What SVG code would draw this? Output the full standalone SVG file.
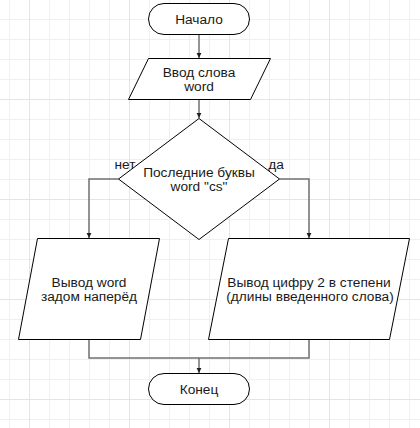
<svg xmlns="http://www.w3.org/2000/svg" width="420" height="428" viewBox="0 0 420 428">
<style>
.grid{stroke:#f0f0f0;stroke-width:1;fill:none}
.gridM{stroke:#e4e4e4;stroke-width:1;fill:none}
.shape{fill:#ffffff;stroke:#000000;stroke-width:1}
.edge{fill:none;stroke:#707070;stroke-width:1.5}
text{font-family:"Liberation Sans",Arial,sans-serif;font-size:13.7px;fill:#1a1a1a;text-anchor:middle}
</style>
<defs>
<marker id="arrow" markerUnits="userSpaceOnUse" markerWidth="8" markerHeight="8" viewBox="0 0 8 8" refX="6" refY="4" orient="auto">
<path d="M1,1.6 L6,4 L1,6.4 Z" fill="#222222"/>
</marker>
</defs>
<rect x="0" y="0" width="420" height="428" fill="#ffffff"/>
<g id="grid">
<path class="grid" d="M9.5,0V428M49.5,0V428M69.5,0V428M89.5,0V428M109.5,0V428M149.5,0V428M169.5,0V428M189.5,0V428M209.5,0V428M249.5,0V428M269.5,0V428M289.5,0V428M309.5,0V428M349.5,0V428M369.5,0V428M389.5,0V428M409.5,0V428M0,19.5H420M0,39.5H420M0,59.5H420M0,79.5H420M0,119.5H420M0,139.5H420M0,159.5H420M0,179.5H420M0,219.5H420M0,239.5H420M0,259.5H420M0,279.5H420M0,319.5H420M0,339.5H420M0,359.5H420M0,379.5H420M0,419.5H420"/>
<path class="gridM" d="M29.5,0V428M129.5,0V428M229.5,0V428M329.5,0V428M0,99.5H420M0,199.5H420M0,299.5H420M0,399.5H420"/>
</g>
<g id="connectors">
<path class="edge" d="M199,34.5V58" marker-end="url(#arrow)"/>
<path class="edge" d="M199,99.5V118" marker-end="url(#arrow)"/>
<path class="edge" d="M118.5,179H89V238" marker-end="url(#arrow)"/>
<path class="edge" d="M279.5,179H309V238" marker-end="url(#arrow)"/>
<path class="edge" d="M89,339.5V358H309V339.5"/>
<path class="edge" d="M199,358V373" marker-end="url(#arrow)"/>
<text x="125" y="168.7">нет</text>
<text x="276" y="168.7">да</text>
</g>
<g id="start">
<rect class="shape" x="148.5" y="3.5" width="101" height="31" rx="15.5" ry="15.5"/>
<text x="199" y="23.5">Начало</text>
</g>
<g id="input">
<polygon class="shape" points="148.5,58.5 270.5,58.5 250.5,99.5 128.5,99.5"/>
<text x="199" y="76.5">Ввод слова</text>
<text x="199" y="91">word</text>
</g>
<g id="decision">
<polygon class="shape" points="199,118.5 279.5,179 199,239.5 118.5,179"/>
<text x="199" y="176.5">Последние буквы</text>
<text x="199" y="191">word "cs"</text>
</g>
<g id="outReverse">
<polygon class="shape" points="37.5,238.5 159.5,238.5 140.5,339.5 18.5,339.5"/>
<text x="89" y="286.7">Вывод word</text>
<text x="89" y="301">задом наперёд</text>
</g>
<g id="outPower">
<polygon class="shape" points="228.5,238.5 409.5,238.5 389.5,339.5 208.5,339.5"/>
<text x="309" y="286.7">Вывод цифру 2 в степени</text>
<text x="310" y="301">(длины введенного слова)</text>
</g>
<g id="end">
<rect class="shape" x="148.5" y="373.5" width="101" height="31" rx="15.5" ry="15.5"/>
<text x="199" y="394">Конец</text>
</g>
</svg>
